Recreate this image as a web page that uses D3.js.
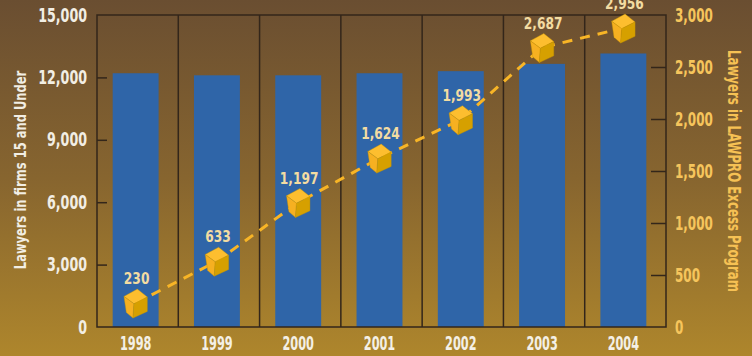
<!DOCTYPE html>
<html>
<head>
<meta charset="utf-8">
<script src="https://cdn.jsdelivr.net/npm/d3@7"></script>
<style>
  body { margin: 0; padding: 0; }
  svg { display: block; }
  text { font-family: "Liberation Sans Narrow", "DejaVu Sans Condensed", "Roboto Condensed", sans-serif; font-weight: bold; font-stretch: condensed; }
</style>
</head>
<body>
<div id="chart"></div>
<script>
// chart values
var years = ["1998", "1999", "2000", "2001", "2002", "2003", "2004"];
var firmLawyers = [12200, 12100, 12100, 12200, 12300, 12650, 13150];
var excessLawyers = [230, 633, 1197, 1624, 1993, 2687, 2956];
var leftTicks = [0, 3000, 6000, 9000, 12000, 15000];
var rightTicks = [0, 500, 1000, 1500, 2000, 2500, 3000];

var width = 752, height = 356;
var margin = { top: 15, right: 86, bottom: 29, left: 97 };

var svg = d3.select("#chart").append("svg")
    .attr("width", width)
    .attr("height", height);

// squeeze text sideways, the original uses a condensed face
var condense = (sel, k) => sel.each(function () {
    var len = this.getComputedTextLength();
    d3.select(this).attr("textLength", len * k).attr("lengthAdjust", "spacingAndGlyphs");
});

// background gradient
var grad = svg.append("defs").append("linearGradient")
    .attr("id", "bg")
    .attr("x1", 0).attr("y1", 0).attr("x2", 0).attr("y2", 1);
grad.append("stop").attr("offset", "0%").attr("stop-color", "#6a4e31");
grad.append("stop").attr("offset", "50%").attr("stop-color", "#87652f");
grad.append("stop").attr("offset", "100%").attr("stop-color", "#ae862c");

svg.append("rect")
    .attr("width", width)
    .attr("height", height)
    .attr("fill", "url(#bg)");

var x = d3.scaleBand()
    .domain(years)
    .range([margin.left, width - margin.right]);

var yLeft = d3.scaleLinear()
    .domain([0, 15000])
    .range([height - margin.bottom, margin.top]);

var yRight = d3.scaleLinear()
    .domain([0, 3000])
    .range([height - margin.bottom, margin.top]);

var barW = x.bandwidth() * 0.565;
var shift = -2;
var barX = d => x(d) + (x.bandwidth() - barW) / 2 + shift;
var midX = d => x(d) + x.bandwidth() / 2 + shift;

// bars
svg.append("g")
    .selectAll("rect")
    .data(years)
    .join("rect")
    .attr("x", d => barX(d))
    .attr("y", (d, i) => yLeft(firmLawyers[i]))
    .attr("width", barW)
    .attr("height", (d, i) => yLeft(0) - yLeft(firmLawyers[i]))
    .attr("fill", "#2f65a8");

// category separators and frame
var lineCol = "#33261a";
svg.append("g")
    .selectAll("line")
    .data(years.slice(1))
    .join("line")
    .attr("x1", d => x(d)).attr("x2", d => x(d))
    .attr("y1", margin.top).attr("y2", height - margin.bottom)
    .attr("stroke", lineCol)
    .attr("stroke-width", 1.5);

svg.append("rect")
    .attr("x", margin.left)
    .attr("y", margin.top)
    .attr("width", width - margin.left - margin.right)
    .attr("height", height - margin.top - margin.bottom)
    .attr("fill", "none")
    .attr("stroke", lineCol)
    .attr("stroke-width", 1.5);

// left axis
var axL = svg.append("g")
    .attr("transform", `translate(${margin.left},0)`)
    .call(d3.axisLeft(yLeft).tickValues(leftTicks).tickSize(-10).tickPadding(10).tickFormat(d3.format(",")));
axL.select(".domain").remove();
axL.selectAll("line").attr("stroke", lineCol).attr("stroke-width", 1.5)
    .filter(d => d === 0 || d === 15000).remove();
axL.selectAll("text").attr("fill", "#f2eee4").attr("font-size", 19).call(condense, 0.74);

// right axis
var axR = svg.append("g")
    .attr("transform", `translate(${width - margin.right},0)`)
    .call(d3.axisRight(yRight).tickValues(rightTicks).tickSize(-15).tickPadding(9).tickFormat(d3.format(",")));
axR.select(".domain").remove();
axR.selectAll("line").attr("stroke", lineCol).attr("stroke-width", 1.5)
    .filter(d => d === 0 || d === 3000).remove();
axR.selectAll("text").attr("fill", "#f6c55c").attr("font-size", 19).call(condense, 0.7);

// bottom axis labels
var axB = svg.append("g")
    .attr("transform", `translate(${shift},${height - margin.bottom})`)
    .call(d3.axisBottom(x).tickSize(0).tickPadding(10));
axB.select(".domain").remove();
axB.selectAll("text").attr("fill", "#f4f0e6").attr("font-size", 19).call(condense, 0.66);

// axis titles
svg.append("text")
    .attr("transform", "translate(26,170) rotate(-90)")
    .attr("text-anchor", "middle")
    .attr("fill", "#f2eee4")
    .attr("font-size", 16)
    .text("Lawyers in firms 15 and Under")
    .call(condense, 0.8);

svg.append("text")
    .attr("transform", "translate(728,171) rotate(90)")
    .attr("text-anchor", "middle")
    .attr("fill", "#f6c154")
    .attr("font-size", 17)
    .text("Lawyers in LAWPRO Excess Program")
    .call(condense, 0.77);

// line series, markers kept inside the plot
var pointY = v => Math.max(yRight(v), margin.top + 13);
var pts = years.map((d, i) => [midX(d), pointY(excessLawyers[i])]);

svg.append("path")
    .datum(pts)
    .attr("d", d3.line())
    .attr("fill", "none")
    .attr("stroke", "#f8b526")
    .attr("stroke-width", 3)
    .attr("stroke-dasharray", "10,8");

// cube faces
var faces = [
    { c: "#fdbe2f", p: [[-11.7, -6.7], [1.7, -14], [11.7, -6], [-1.7, 0.7]] },
    { c: "#f6b021", p: [[-11.7, -6.7], [-1.7, 0.7], [-2.7, 15], [-9.3, 9.3]] },
    { c: "#d6a000", p: [[-1.7, 0.7], [11.7, -6], [11.7, 8.3], [-2.7, 15]] }
];

var cube = svg.append("g")
    .selectAll("g")
    .data(pts)
    .join("g")
    .attr("transform", d => `translate(${d[0]},${d[1]})`);

cube.selectAll("path")
    .data(faces)
    .join("path")
    .attr("d", f => "M" + f.p.join("L") + "Z")
    .attr("fill", f => f.c)
    .attr("stroke", "#c89500")
    .attr("stroke-width", 0.4);

svg.append("g")
    .selectAll("text")
    .data(pts)
    .join("text")
    .attr("x", d => d[0] + 1)
    .attr("y", d => d[1] - 19)
    .attr("text-anchor", "middle")
    .attr("fill", "#f3dca2")
    .attr("font-size", 16)
    .text((d, i) => d3.format(",")(excessLawyers[i]))
    .call(condense, 0.85);
</script>
</body>
</html>
